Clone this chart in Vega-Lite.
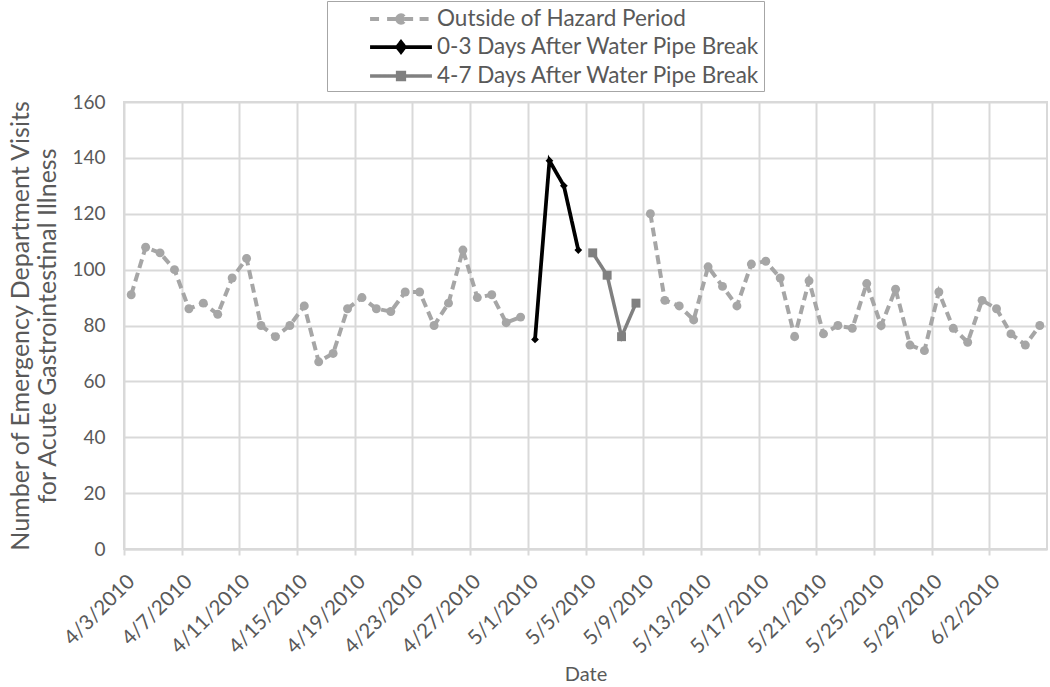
{
  "$schema": "https://vega.github.io/schema/vega-lite/v6.json",
  "width": 923,
  "height": 447,
  "autosize": "none",
  "padding": {"left": 124, "top": 102, "right": 3, "bottom": 138},
  "background": "white",
  "config": {
    "font": "Lato",
    "view": {"stroke": "#d9d9d9", "strokeWidth": 2},
    "axis": {
      "labelColor": "#595959",
      "titleColor": "#595959",
      "titleFontWeight": "normal",
      "gridColor": "#d9d9d9",
      "gridWidth": 2,
      "domainColor": "#d9d9d9",
      "domainWidth": 2,
      "tickColor": "#d9d9d9",
      "tickWidth": 2
    }
  },
  "data": {
    "values": [
      {"date": "2010-04-03T00:00", "visits": 91, "period": "Outside of Hazard Period", "segment": "before"},
      {"date": "2010-04-04T00:00", "visits": 108, "period": "Outside of Hazard Period", "segment": "before"},
      {"date": "2010-04-05T00:00", "visits": 106, "period": "Outside of Hazard Period", "segment": "before"},
      {"date": "2010-04-06T00:00", "visits": 100, "period": "Outside of Hazard Period", "segment": "before"},
      {"date": "2010-04-07T00:00", "visits": 86, "period": "Outside of Hazard Period", "segment": "before"},
      {"date": "2010-04-08T00:00", "visits": 88, "period": "Outside of Hazard Period", "segment": "before"},
      {"date": "2010-04-09T00:00", "visits": 84, "period": "Outside of Hazard Period", "segment": "before"},
      {"date": "2010-04-10T00:00", "visits": 97, "period": "Outside of Hazard Period", "segment": "before"},
      {"date": "2010-04-11T00:00", "visits": 104, "period": "Outside of Hazard Period", "segment": "before"},
      {"date": "2010-04-12T00:00", "visits": 80, "period": "Outside of Hazard Period", "segment": "before"},
      {"date": "2010-04-13T00:00", "visits": 76, "period": "Outside of Hazard Period", "segment": "before"},
      {"date": "2010-04-14T00:00", "visits": 80, "period": "Outside of Hazard Period", "segment": "before"},
      {"date": "2010-04-15T00:00", "visits": 87, "period": "Outside of Hazard Period", "segment": "before"},
      {"date": "2010-04-16T00:00", "visits": 67, "period": "Outside of Hazard Period", "segment": "before"},
      {"date": "2010-04-17T00:00", "visits": 70, "period": "Outside of Hazard Period", "segment": "before"},
      {"date": "2010-04-18T00:00", "visits": 86, "period": "Outside of Hazard Period", "segment": "before"},
      {"date": "2010-04-19T00:00", "visits": 90, "period": "Outside of Hazard Period", "segment": "before"},
      {"date": "2010-04-20T00:00", "visits": 86, "period": "Outside of Hazard Period", "segment": "before"},
      {"date": "2010-04-21T00:00", "visits": 85, "period": "Outside of Hazard Period", "segment": "before"},
      {"date": "2010-04-22T00:00", "visits": 92, "period": "Outside of Hazard Period", "segment": "before"},
      {"date": "2010-04-23T00:00", "visits": 92, "period": "Outside of Hazard Period", "segment": "before"},
      {"date": "2010-04-24T00:00", "visits": 80, "period": "Outside of Hazard Period", "segment": "before"},
      {"date": "2010-04-25T00:00", "visits": 88, "period": "Outside of Hazard Period", "segment": "before"},
      {"date": "2010-04-26T00:00", "visits": 107, "period": "Outside of Hazard Period", "segment": "before"},
      {"date": "2010-04-27T00:00", "visits": 90, "period": "Outside of Hazard Period", "segment": "before"},
      {"date": "2010-04-28T00:00", "visits": 91, "period": "Outside of Hazard Period", "segment": "before"},
      {"date": "2010-04-29T00:00", "visits": 81, "period": "Outside of Hazard Period", "segment": "before"},
      {"date": "2010-04-30T00:00", "visits": 83, "period": "Outside of Hazard Period", "segment": "before"},
      {"date": "2010-05-01T00:00", "visits": 75, "period": "0-3 Days After Water Pipe Break", "segment": "hazard1"},
      {"date": "2010-05-02T00:00", "visits": 139, "period": "0-3 Days After Water Pipe Break", "segment": "hazard1"},
      {"date": "2010-05-03T00:00", "visits": 130, "period": "0-3 Days After Water Pipe Break", "segment": "hazard1"},
      {"date": "2010-05-04T00:00", "visits": 107, "period": "0-3 Days After Water Pipe Break", "segment": "hazard1"},
      {"date": "2010-05-05T00:00", "visits": 106, "period": "4-7 Days After Water Pipe Break", "segment": "hazard2"},
      {"date": "2010-05-06T00:00", "visits": 98, "period": "4-7 Days After Water Pipe Break", "segment": "hazard2"},
      {"date": "2010-05-07T00:00", "visits": 76, "period": "4-7 Days After Water Pipe Break", "segment": "hazard2"},
      {"date": "2010-05-08T00:00", "visits": 88, "period": "4-7 Days After Water Pipe Break", "segment": "hazard2"},
      {"date": "2010-05-09T00:00", "visits": 120, "period": "Outside of Hazard Period", "segment": "after"},
      {"date": "2010-05-10T00:00", "visits": 89, "period": "Outside of Hazard Period", "segment": "after"},
      {"date": "2010-05-11T00:00", "visits": 87, "period": "Outside of Hazard Period", "segment": "after"},
      {"date": "2010-05-12T00:00", "visits": 82, "period": "Outside of Hazard Period", "segment": "after"},
      {"date": "2010-05-13T00:00", "visits": 101, "period": "Outside of Hazard Period", "segment": "after"},
      {"date": "2010-05-14T00:00", "visits": 94, "period": "Outside of Hazard Period", "segment": "after"},
      {"date": "2010-05-15T00:00", "visits": 87, "period": "Outside of Hazard Period", "segment": "after"},
      {"date": "2010-05-16T00:00", "visits": 102, "period": "Outside of Hazard Period", "segment": "after"},
      {"date": "2010-05-17T00:00", "visits": 103, "period": "Outside of Hazard Period", "segment": "after"},
      {"date": "2010-05-18T00:00", "visits": 97, "period": "Outside of Hazard Period", "segment": "after"},
      {"date": "2010-05-19T00:00", "visits": 76, "period": "Outside of Hazard Period", "segment": "after"},
      {"date": "2010-05-20T00:00", "visits": 96, "period": "Outside of Hazard Period", "segment": "after"},
      {"date": "2010-05-21T00:00", "visits": 77, "period": "Outside of Hazard Period", "segment": "after"},
      {"date": "2010-05-22T00:00", "visits": 80, "period": "Outside of Hazard Period", "segment": "after"},
      {"date": "2010-05-23T00:00", "visits": 79, "period": "Outside of Hazard Period", "segment": "after"},
      {"date": "2010-05-24T00:00", "visits": 95, "period": "Outside of Hazard Period", "segment": "after"},
      {"date": "2010-05-25T00:00", "visits": 80, "period": "Outside of Hazard Period", "segment": "after"},
      {"date": "2010-05-26T00:00", "visits": 93, "period": "Outside of Hazard Period", "segment": "after"},
      {"date": "2010-05-27T00:00", "visits": 73, "period": "Outside of Hazard Period", "segment": "after"},
      {"date": "2010-05-28T00:00", "visits": 71, "period": "Outside of Hazard Period", "segment": "after"},
      {"date": "2010-05-29T00:00", "visits": 92, "period": "Outside of Hazard Period", "segment": "after"},
      {"date": "2010-05-30T00:00", "visits": 79, "period": "Outside of Hazard Period", "segment": "after"},
      {"date": "2010-05-31T00:00", "visits": 74, "period": "Outside of Hazard Period", "segment": "after"},
      {"date": "2010-06-01T00:00", "visits": 89, "period": "Outside of Hazard Period", "segment": "after"},
      {"date": "2010-06-02T00:00", "visits": 86, "period": "Outside of Hazard Period", "segment": "after"},
      {"date": "2010-06-03T00:00", "visits": 77, "period": "Outside of Hazard Period", "segment": "after"},
      {"date": "2010-06-04T00:00", "visits": 73, "period": "Outside of Hazard Period", "segment": "after"},
      {"date": "2010-06-05T00:00", "visits": 80, "period": "Outside of Hazard Period", "segment": "after"}
    ]
  },
  "encoding": {
    "x": {
      "field": "date",
      "type": "temporal",
      "timeUnit": "yearmonthdate",
      "bandPosition": 0.5,
      "scale": {"domain": [{"year": 2010, "month": 4, "date": 3}, {"year": 2010, "month": 6, "date": 6}]},
      "axis": {
        "values": [
          {"year": 2010, "month": 4, "date": 3}, {"year": 2010, "month": 4, "date": 7},
          {"year": 2010, "month": 4, "date": 11}, {"year": 2010, "month": 4, "date": 15},
          {"year": 2010, "month": 4, "date": 19}, {"year": 2010, "month": 4, "date": 23},
          {"year": 2010, "month": 4, "date": 27}, {"year": 2010, "month": 5, "date": 1},
          {"year": 2010, "month": 5, "date": 5}, {"year": 2010, "month": 5, "date": 9},
          {"year": 2010, "month": 5, "date": 13}, {"year": 2010, "month": 5, "date": 17},
          {"year": 2010, "month": 5, "date": 21}, {"year": 2010, "month": 5, "date": 25},
          {"year": 2010, "month": 5, "date": 29}, {"year": 2010, "month": 6, "date": 2}
        ],
        "format": "%-m/%-d/%Y",
        "labelAngle": -45,
        "labelFontSize": 20.5,
        "labelOverlap": false,
        "labelBound": false,
        "tickSize": 6,
        "labelPadding": 16,
        "title": "Date",
        "titleFontSize": 20,
        "titlePadding": 7
      }
    },
    "y": {
      "field": "visits",
      "type": "quantitative",
      "scale": {"domain": [0, 160]},
      "axis": {
        "values": [0, 20, 40, 60, 80, 100, 120, 140, 160],
        "domain": false,
        "ticks": false,
        "labelFontSize": 19,
        "labelPadding": 19,
        "title": ["Number of Emergency Department Visits", "for Acute Gastrointestinal Illness"],
        "titleFontSize": 25,
        "titleLineHeight": 27,
        "titlePadding": 11
      }
    }
  },
  "layer": [
    {
      "mark": {"type": "line", "strokeCap": "butt"},
      "encoding": {
        "detail": {"field": "segment"},
        "color": {
          "field": "period",
          "type": "nominal",
          "scale": {
            "domain": ["Outside of Hazard Period", "0-3 Days After Water Pipe Break", "4-7 Days After Water Pipe Break"],
            "range": ["#a6a6a6", "#000000", "#808080"]
          },
          "legend": {
            "orient": "none",
            "legendX": 203,
            "legendY": -101,
            "title": null,
            "labelFontSize": 22.5,
            "labelColor": "#595959",
            "labelLimit": 500,
            "symbolSize": 676,
            "symbolStrokeWidth": 4,
            "symbolOffset": 56,
            "labelOffset": 21,
            "rowPadding": 1,
            "padding": 3,
            "strokeColor": "#a6a6a6",
            "fillColor": "white",
            "encode": {
              "symbols": {
                "update": {
                  "shape": {"signal": "datum.value === 'Outside of Hazard Period' ? 'M-2.38,0H-1.43M-1.07,0H-0.24M0.24,0H1.07M1.43,0H2.38M-0.29,0A0.29,0.29 0 1,0 0.29,0A0.29,0.29 0 1,0 -0.29,0Z' : datum.value === '0-3 Days After Water Pipe Break' ? 'M-2.38,0H2.38M0,-0.38L0.29,0L0,0.38L-0.29,0Z' : 'M-2.38,0H2.38M-0.26,-0.26H0.26V0.26H-0.26Z'"},
                  "fill": {"signal": "datum.value === 'Outside of Hazard Period' ? '#a6a6a6' : datum.value === '0-3 Days After Water Pipe Break' ? '#000000' : '#808080'"},
                  "strokeDash": {"value": [1, 0]},
                  "size": {"value": 676}
                }
              }
            }
          }
        },
        "strokeDash": {
          "field": "period",
          "type": "nominal",
          "scale": {
            "domain": ["Outside of Hazard Period", "0-3 Days After Water Pipe Break", "4-7 Days After Water Pipe Break"],
            "range": [[9, 5], [1, 0], [1, 0]]
          },
          "legend": null
        },
        "strokeWidth": {
          "field": "period",
          "type": "ordinal",
          "scale": {
            "domain": ["Outside of Hazard Period", "0-3 Days After Water Pipe Break", "4-7 Days After Water Pipe Break"],
            "range": [4, 3.5, 4]
          },
          "legend": null
        }
      }
    },
    {
      "transform": [{"filter": "datum.period === 'Outside of Hazard Period'"}],
      "mark": {"type": "point", "filled": true, "opacity": 1, "shape": "circle", "size": 80, "color": "#a6a6a6"},
      "encoding": {}
    },
    {
      "transform": [{"filter": "datum.period === '0-3 Days After Water Pipe Break'"}],
      "mark": {"type": "point", "filled": true, "opacity": 1, "shape": "diamond", "size": 60, "color": "#000000"},
      "encoding": {}
    },
    {
      "transform": [{"filter": "datum.period === '4-7 Days After Water Pipe Break'"}],
      "mark": {"type": "point", "filled": true, "opacity": 1, "shape": "square", "size": 80, "color": "#808080"},
      "encoding": {}
    }
  ]
}
